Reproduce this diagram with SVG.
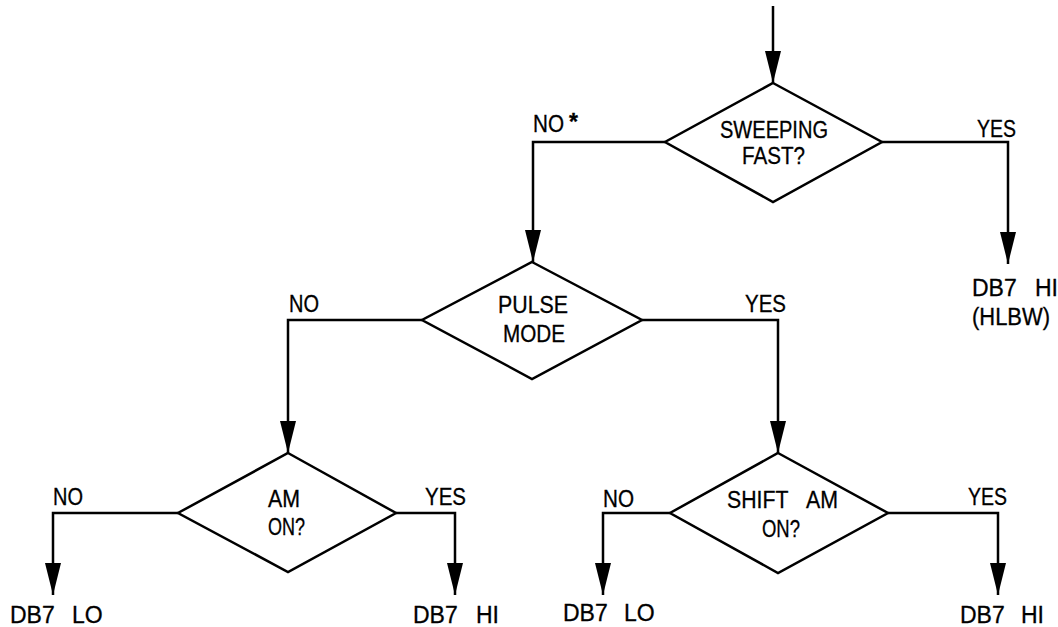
<svg xmlns="http://www.w3.org/2000/svg" width="1058" height="627" viewBox="0 0 1058 627">
<style>
.ar{fill:none;stroke:#000;stroke-width:2.5;stroke-linejoin:miter;marker-end:url(#ah)}
.dm{fill:#fff;stroke:#000;stroke-width:2.5;stroke-linejoin:miter}
text{font-family:"Liberation Sans",Arial,sans-serif;font-size:23px;fill:#000;stroke:#000;stroke-width:0.3}
</style>
<defs>
<marker id="ah" viewBox="0 0 32 16" refX="32" refY="8" markerWidth="32" markerHeight="16" markerUnits="userSpaceOnUse" orient="auto">
<path d="M0,0 L32,8 L0,16 z" fill="#000"/>
</marker>
</defs>
<rect width="1058" height="627" fill="#fff"/>
<g id="connectors">
<path class="ar" d="M773,6 L773,83"/>
<path class="ar" d="M665,142 L533,142 L533,262"/>
<path class="ar" d="M882,142 L1008,142 L1008,264"/>
<path class="ar" d="M422,320 L288,320 L288,453"/>
<path class="ar" d="M642,320 L778,320 L778,453"/>
<path class="ar" d="M178,513 L53,513 L53,595"/>
<path class="ar" d="M396,513 L455,513 L455,595"/>
<path class="ar" d="M670,513 L603,513 L603,595"/>
<path class="ar" d="M888,513 L998,513 L998,595"/>
</g>
<g id="labels">
<text x="533" y="132" textLength="31" lengthAdjust="spacingAndGlyphs">NO</text>
<text x="569" y="130" font-size="28" font-weight="bold">*</text>
<text x="977" y="137" textLength="39" lengthAdjust="spacingAndGlyphs">YES</text>
<text x="289" y="312" textLength="30" lengthAdjust="spacingAndGlyphs">NO</text>
<text x="745" y="312" textLength="41" lengthAdjust="spacingAndGlyphs">YES</text>
<text x="53" y="505" textLength="30" lengthAdjust="spacingAndGlyphs">NO</text>
<text x="425" y="505" textLength="41" lengthAdjust="spacingAndGlyphs">YES</text>
<text x="603" y="507" textLength="31" lengthAdjust="spacingAndGlyphs">NO</text>
<text x="968" y="505" textLength="39" lengthAdjust="spacingAndGlyphs">YES</text>
</g>
<g id="sweeping">
<path class="dm" d="M773,83 L882,142 L773,202 L665,142 z"/>
<text x="720" y="138" textLength="108" lengthAdjust="spacingAndGlyphs">SWEEPING</text>
<text x="742" y="164" textLength="63" lengthAdjust="spacingAndGlyphs">FAST?</text>
</g>
<g id="pulse">
<path class="dm" d="M532,262 L642,320 L532,379 L422,320 z"/>
<text x="498" y="313" textLength="70" lengthAdjust="spacingAndGlyphs">PULSE</text>
<text x="503" y="342" textLength="62" lengthAdjust="spacingAndGlyphs">MODE</text>
</g>
<g id="am">
<path class="dm" d="M288,453 L396,513 L288,572 L178,513 z"/>
<text x="268" y="507" textLength="32" lengthAdjust="spacingAndGlyphs">AM</text>
<text x="268" y="535" textLength="37" lengthAdjust="spacingAndGlyphs">ON?</text>
</g>
<g id="shiftam">
<path class="dm" d="M778,453 L888,513 L778,573 L670,513 z"/>
<text x="727" y="508"><tspan textLength="61" lengthAdjust="spacingAndGlyphs">SHIFT</tspan> <tspan x="806" textLength="32" lengthAdjust="spacingAndGlyphs">AM</tspan></text>
<text x="762" y="537" textLength="38" lengthAdjust="spacingAndGlyphs">ON?</text>
</g>
<g id="out-hlbw">
<text x="972" y="296">DB7 <tspan x="1035">HI</tspan></text>
<text x="972" y="325" textLength="78" lengthAdjust="spacingAndGlyphs">(HLBW)</text>
</g>
<g id="out-lo1">
<text x="10" y="623">DB7 <tspan x="72">LO</tspan></text>
</g>
<g id="out-hi1">
<text x="413" y="623">DB7 <tspan x="476">HI</tspan></text>
</g>
<g id="out-lo2">
<text x="563" y="621">DB7 <tspan x="624">LO</tspan></text>
</g>
<g id="out-hi2">
<text x="960" y="623">DB7 <tspan x="1021">HI</tspan></text>
</g>
</svg>
